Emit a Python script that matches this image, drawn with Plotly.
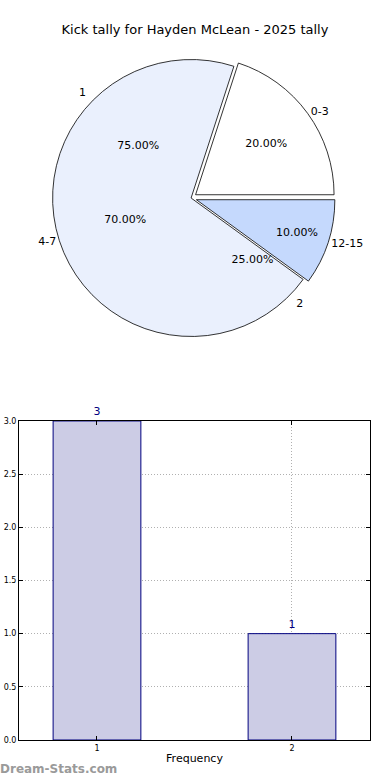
import plotly.graph_objects as go

# Pie A: kick distance bands
dist_labels = ["0-3", "4-7", "12-15"]
dist_values = [20, 70, 10]
dist_colors = ["#ffffff", "#eaf0fd", "#c5d9fd"]

# Pie B: kick counts
count_labels = ["1", "2"]
count_values = [3, 1]

# Bar chart: frequency
bar_x = [1, 2]
bar_y = [3, 1]
bar_text = ["3", "1"]

title = "Kick tally for Hayden McLean - 2025 tally"
FONT = "DejaVu Sans"

pie_domain = dict(x=[0.118, 0.862], y=[0.5615, 0.9308])
PULL_A = [0.04, 0, 0.04]
PULL_B = [0.04, 0.04]

fig = go.Figure()

fig.add_trace(go.Pie(
    labels=dist_labels, values=dist_values, sort=False,
    direction="counterclockwise", rotation=18,
    marker=dict(colors=dist_colors, line=dict(color="#000000", width=0.8)),
    pull=PULL_A,
    texttemplate="%{percent:.2%}", textposition="inside",
    insidetextorientation="horizontal",
    textfont=dict(family=FONT, size=11, color="#000000"),
    domain=pie_domain, showlegend=False, hoverinfo="label+percent",
))
fig.add_trace(go.Pie(
    labels=dist_labels, values=dist_values, sort=False,
    direction="counterclockwise", rotation=18,
    marker=dict(colors=["rgba(0,0,0,0)"] * 3, line=dict(width=0)),
    pull=PULL_A,
    texttemplate="%{label}", textposition="outside",
    textfont=dict(family=FONT, size=11, color="#000000"),
    domain=pie_domain, showlegend=False, hoverinfo="skip",
))
fig.add_trace(go.Pie(
    labels=count_labels, values=count_values, sort=False,
    direction="counterclockwise", rotation=180,
    marker=dict(colors=["rgba(0,0,0,0)"] * 2, line=dict(width=0)),
    pull=PULL_B,
    texttemplate="%{percent:.2%}", textposition="inside",
    insidetextorientation="horizontal",
    textfont=dict(family=FONT, size=11, color="#000000"),
    domain=pie_domain, showlegend=False, hoverinfo="label+percent",
))
fig.add_trace(go.Pie(
    labels=count_labels, values=count_values, sort=False,
    direction="counterclockwise", rotation=180,
    marker=dict(colors=["rgba(0,0,0,0)"] * 2, line=dict(width=0)),
    pull=PULL_B,
    texttemplate="%{label}", textposition="outside",
    textfont=dict(family=FONT, size=11, color="#000000"),
    domain=pie_domain, showlegend=False, hoverinfo="skip",
))

fig.add_trace(go.Bar(
    x=bar_x, y=bar_y, width=0.45, text=bar_text, textposition="outside",
    cliponaxis=False,
    textfont=dict(family=FONT, size=11, color="#00007f"),
    marker=dict(color="#ccccE5", line=dict(color="#00007f", width=1)),
    showlegend=False,
))

axis_common = dict(
    showline=True, linecolor="#000000", linewidth=1, mirror="ticks",
    ticks="inside", ticklen=4, tickcolor="#000000",
    showgrid=True, gridcolor="#b0b0b0", griddash="1px,2px", gridwidth=1,
    zeroline=False, automargin=False,
    tickfont=dict(family=FONT, size=8, color="#000000"),
)

fig.update_layout(
    width=390, height=780,
    margin=dict(l=0, r=0, t=0, b=0),
    paper_bgcolor="#ffffff", plot_bgcolor="#ffffff",
    font=dict(family=FONT, color="#000000"),
    title=dict(text=title, x=0.5, xanchor="center", y=0.962, yanchor="middle",
               font=dict(family=FONT, size=13, color="#000000")),
    xaxis=dict(domain=[0.0487, 0.9487], range=[0.6, 2.4], tickvals=bar_x,
               ticktext=[str(v) for v in bar_x],
               title=dict(text="Frequency", standoff=2,
                          font=dict(family=FONT, size=11)),
               **axis_common),
    yaxis=dict(domain=[0.0513, 0.4603], range=[0, 3], dtick=0.5,
               tickformat=".1f", **axis_common),
    annotations=[dict(text="<b>Dream-Stats.com</b>", xref="paper", yref="paper",
                      x=-0.005, y=0.003, xanchor="left", yanchor="bottom",
                      showarrow=False,
                      font=dict(family=FONT, size=12, color="#9a9a9a"))],
)

fig.write_html(
    "out.html",
    config={"displayModeBar": False},
    post_script="document.body.style.margin='0';document.body.style.padding='0';",
)
